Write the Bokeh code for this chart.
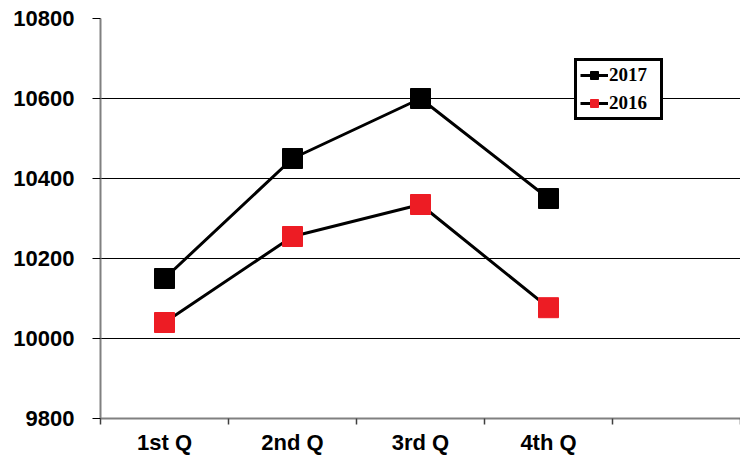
from bokeh.plotting import figure
from bokeh.models import FixedTicker, Legend, LegendItem, Range1d
from bokeh.embed import file_html
from bokeh.resources import INLINE

quarters = ["1st Q", "2nd Q", "3rd Q", "4th Q"]
sales_2017 = [10150, 10450, 10600, 10350]
sales_2016 = [10040, 10255, 10335, 10077]
y_ticks = [9800, 10000, 10200, 10400, 10600, 10800]
n_slots = 5  # category slots on the x axis (the last one is empty)

xpos = [i + 0.5 for i in range(len(quarters))]

p = figure(width=740, height=457, output_backend="svg", toolbar_location=None,
           x_range=Range1d(0, n_slots), y_range=Range1d(9800, 10800),
           min_border_left=100, min_border_right=0, min_border_top=18,
           min_border_bottom=39)

p.outline_line_color = None
p.background_fill_color = "white"
p.border_fill_color = "white"

# y axis
p.yaxis.ticker = FixedTicker(ticks=y_ticks)
p.yaxis.major_label_text_font = "Liberation Sans"
p.yaxis.major_label_text_font_style = "bold"
p.yaxis.major_label_text_font_size = "22px"
p.yaxis.major_label_text_color = "black"
p.yaxis.major_label_standoff = 18
p.yaxis.major_tick_out = 8
p.yaxis.major_tick_in = 0
p.yaxis.major_tick_line_color = "black"
p.yaxis.minor_tick_line_color = None
p.yaxis.axis_line_color = "#808080"
p.yaxis.axis_line_width = 2

# x axis
p.xaxis.ticker = FixedTicker(ticks=xpos, minor_ticks=list(range(n_slots + 1)))
p.xaxis.major_label_overrides = dict(zip(xpos, quarters))
p.xaxis.major_label_text_font = "Liberation Sans"
p.xaxis.major_label_text_font_style = "bold"
p.xaxis.major_label_text_font_size = "22px"
p.xaxis.major_label_text_color = "black"
p.xaxis.major_label_standoff = 5
p.xaxis.major_tick_out = 0
p.xaxis.major_tick_in = 0
p.xaxis.major_tick_line_color = None
p.xaxis.minor_tick_out = 6
p.xaxis.minor_tick_in = 0
p.xaxis.minor_tick_line_color = "#404040"
p.xaxis.minor_tick_line_width = 1.5
p.xaxis.axis_line_color = "#808080"
p.xaxis.axis_line_width = 2

p.xgrid.visible = False
p.ygrid.grid_line_color = "black"
p.ygrid.grid_line_width = 1

l17 = p.line(xpos, sales_2017, line_color="black", line_width=3)
s17 = p.scatter(xpos, sales_2017, marker="square", size=20,
                fill_color="black", line_color="black")
l16 = p.line(xpos, sales_2016, line_color="black", line_width=3)
s16 = p.scatter(xpos, sales_2016, marker="square", size=20,
                fill_color="#ED1C24", line_color="#ED1C24")

legend = Legend(items=[LegendItem(label="2017", renderers=[l17, s17]),
                       LegendItem(label="2016", renderers=[l16, s16])],
                location=(474, 298))
legend.label_text_font = "Liberation Serif"
legend.label_text_font_style = "bold"
legend.label_text_font_size = "19px"
legend.label_text_color = "black"
legend.glyph_width = 28
legend.glyph_height = 20
legend.label_height = 20
legend.label_width = 48
legend.label_standoff = 1
legend.spacing = 6
legend.padding = 3
legend.margin = 0
legend.border_line_color = "black"
legend.border_line_alpha = 1
legend.border_line_width = 3
legend.background_fill_color = "white"
legend.background_fill_alpha = 1
p.add_layout(legend)

open("out.html", "w").write(file_html(p, INLINE))
